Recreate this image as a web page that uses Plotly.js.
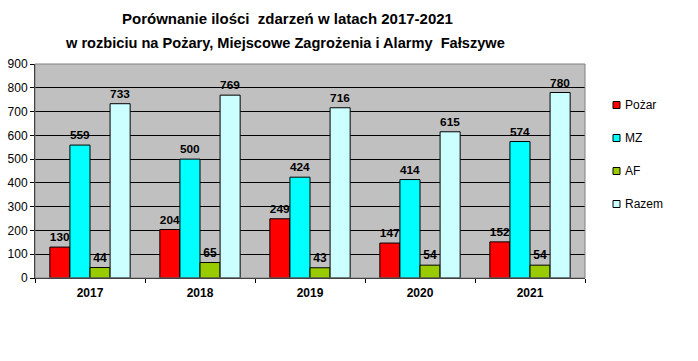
<!DOCTYPE html>
<html><head><meta charset="utf-8">
<script src="https://cdn.plot.ly/plotly-3.0.1.min.js"></script>
<style>body{margin:0;background:#fff}#chart{width:698px;height:361px}</style>
</head><body><div id="chart"></div>
<script>
const years = ['2017','2018','2019','2020','2021'];
const seriesNames = ['Pożar','MZ','AF','Razem'];
const pozar = [130,204,249,147,152];
const mz = [559,500,424,414,574];
const af = [44,65,43,54,54];
const razem = [733,769,716,615,780];
const colors = ['#ff0000','#00ffff','#99cc00','#ccffff'];
const yTicks = [0,100,200,300,400,500,600,700,800,900];

const FONT = 'Arial, Liberation Sans, sans-serif';
const values = [pozar, mz, af, razem];
const traces = values.map((v,i)=>({
  type:'bar', x:years, y:v, name:seriesNames[i], showlegend:false,
  marker:{color:colors[i], line:{color:'#000', width:1}},
  text:v.map(String), textposition:'outside', cliponaxis:false,
  textfont:{family:FONT, size:12, color:'#000', weight:'bold'},
  hoverinfo:'none'
}));

// plot area geometry (pixels)
const L = 35, R = 113, T = 64, B = 83, W = 698, H = 361;
const pw = W - L - R, ph = H - T - B;
const px = x => (x - L) / pw;
const py = y => (H - B - y) / ph;

// legend built from layout annotations + small square shapes
const legendRowY = [105, 138, 171, 204];
const legendShapes = seriesNames.map((n,i)=>({
  type:'rect', xref:'paper', yref:'paper',
  x0:px(613), x1:px(620), y0:py(legendRowY[i]+3.5), y1:py(legendRowY[i]-3.5),
  fillcolor:colors[i], line:{color:'#000', width:1}
}));
const legendAnns = seriesNames.map((n,i)=>({
  text:n, xref:'paper', yref:'paper', x:px(623), y:py(legendRowY[i]),
  xanchor:'left', yanchor:'middle', showarrow:false,
  font:{family:FONT, size:12, color:'#000'}
}));

const layout = {
  width:W, height:H,
  margin:{l:L, r:R, t:T, b:B},
  paper_bgcolor:'#fff', plot_bgcolor:'#c0c0c0',
  barmode:'group', bargap:0.27, bargroupgap:0,
  showlegend:false,
  xaxis:{type:'category', tickson:'boundaries', ticks:'outside', ticklen:4, tickcolor:'#000',
    ticklabelstandoff:4,
    showline:true, linecolor:'#000', linewidth:1, mirror:false, showgrid:false,
    tickfont:{family:FONT, size:12, color:'#000', weight:'bold'}},
  yaxis:{range:[0,900], tickvals:yTicks, ticks:'outside', ticklen:4, tickcolor:'#000',
    showline:true, linecolor:'#000', linewidth:1, gridcolor:'#000', gridwidth:1,
    zeroline:false,
    tickfont:{family:FONT, size:12, color:'#000'}},
  shapes:[{type:'rect', xref:'paper', yref:'paper', x0:0, x1:1, y0:0, y1:1, line:{color:'#808080', width:1}}].concat(legendShapes),
  annotations:[
    {text:'Porównanie ilości  zdarzeń w latach 2017-2021', xref:'paper', yref:'paper', x:px(287), y:py(18), yanchor:'middle', showarrow:false,
     font:{family:FONT, size:15, color:'#000', weight:'bold'}},
    {text:'w rozbiciu na Pożary, Miejscowe Zagrożenia i Alarmy  Fałszywe', xref:'paper', yref:'paper', x:px(285), y:py(43), yanchor:'middle', showarrow:false,
     font:{family:FONT, size:14.6, color:'#000', weight:'bold'}}
  ].concat(legendAnns)
};
Plotly.newPlot('chart', traces, layout, {displayModeBar:false, staticPlot:true});
</script></body></html>
